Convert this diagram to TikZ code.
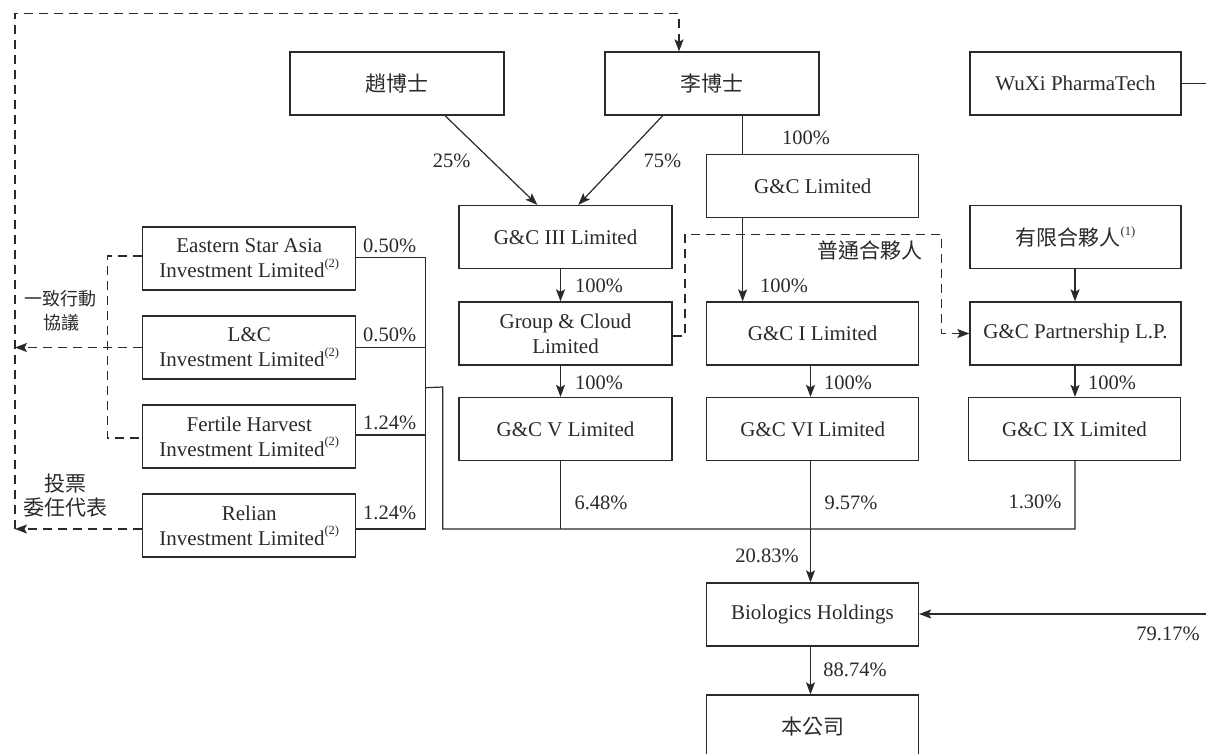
\documentclass[tikz,border=0pt]{standalone}
\usepackage{fontspec}
\setmainfont{Liberation Serif}
\newfontfamily\cjk{Noto Sans CJK TC}
\usetikzlibrary{arrows.meta}
\definecolor{ink}{HTML}{2A2A2A}
\newcommand{\supn}[1]{\raisebox{0.5em}{\fontsize{12.5}{12.5}\selectfont(#1)}}
\begin{document}
\begin{tikzpicture}[x=1pt,y=-1pt,
  box/.style={draw=ink, line width=1.3pt, minimum width=213pt, minimum height=63pt, inner sep=0pt, align=center, font=\fontsize{21}{25}\selectfont, text=ink},
  cjkbox/.style={box, font=\cjk\fontsize{21}{25}\selectfont},
  lbl/.style={inner sep=0pt, font=\fontsize{20.5}{24}\selectfont, text=ink},
  cjklbl/.style={inner sep=0pt, font=\cjk\fontsize{21}{25}\selectfont, text=ink},
  cjksmall/.style={inner sep=0pt, font=\cjk\fontsize{18}{21}\selectfont, text=ink},
  conn/.style={draw=ink, line width=1.2pt},
  arr/.style={conn, -{Stealth[length=12pt,width=9pt,inset=2.5pt]}},
  dsh/.style={conn, dash pattern=on 9pt off 6pt},
  darr/.style={dsh, -{Stealth[length=12pt,width=9pt,inset=2.5pt]}}]
\useasboundingbox (0,0) rectangle (1206,753);
\clip (0,0) rectangle (1206,753);
\fill[white] (0,0) rectangle (1206,753);

% columns
\coordinate (colA) at (560.5,0);
\coordinate (colB) at (742.6,0);
\coordinate (colC) at (810.5,0);
\coordinate (colD) at (1075,0);

% boxes
\node[cjkbox, minimum width=214pt] (zhao) at (397,83.5) {趙博士};
\node[cjkbox, minimum width=214pt] (li) at (712,83.5) {李博士};
\node[box, minimum width=211pt] (wuxi) at (1075.5,83.5) {WuXi PharmaTech};
\node[box, minimum width=212pt] (gcl) at (812.7,186) {G\&C Limited};
\node[cjkbox, minimum width=211pt] (lp) at (1075.5,237) {有限合夥人{\rmfamily\supn{1}}};
\node[box] (g3) at (565.5,237) {G\&C III Limited};
\node[box] (gc) at (565.5,333.5) {Group \& Cloud\\Limited};
\node[box, minimum width=212pt] (g1) at (812.7,333.5) {G\&C I Limited};
\node[box, minimum width=211pt] (gcp) at (1075.5,333.5) {G\&C Partnership L.P.};
\node[box] (g5) at (565.5,429) {G\&C V Limited};
\node[box, minimum width=212pt] (g6) at (812.7,429) {G\&C VI Limited};
\node[box, minimum width=212pt] (g9) at (1074.5,429) {G\&C IX Limited};
\node[box, minimum width=212pt] (bio) at (812.5,614.5) {Biologics Holdings};
\node[cjkbox, minimum width=212pt] (comp) at (812.5,726.5) {本公司};

\node[box] (esa) at (249.3,258.5) {Eastern Star Asia\\Investment Limited\supn{2}};
\node[box] (lc) at (249.3,347.5) {L\&C\\Investment Limited\supn{2}};
\node[box] (fh) at (249.3,436.5) {Fertile Harvest\\Investment Limited\supn{2}};
\node[box] (rel) at (249.3,525.5) {Relian\\Investment Limited\supn{2}};

% dashed voting / concert lines on the left
\coordinate (tl) at (15,13.3);
\coordinate (vlA) at (15,347.5);
\coordinate (vlB) at (15,529);
\draw[darr] (lc.west) -- (vlA);
\draw[darr] ([yshift=-3.5pt]rel.west) -- (vlB);
\draw[darr] (vlB) -- (tl) -| ([xshift=-33pt]li.north);
\draw[dsh] ([yshift=2.5pt]esa.west) -- ++(-35,0) |- ([yshift=-1.5pt]fh.west);

% solid bus from the left companies
\coordinate (busB) at (425.5,529);
\coordinate (bump) at (425.5,387.7);
\coordinate (bumpR) at (442.7,387);
\coordinate (busR) at (1075,529);
\draw[conn] ([yshift=0.8pt]esa.east) -| (busB) -- ([yshift=-3.5pt]rel.east);
\draw[conn] (lc.east) -- (lc.east -| busB);
\draw[conn] ([yshift=1.5pt]fh.east) -- ([yshift=1.5pt]fh.east -| busB);
\draw[conn] (bump) -- (bumpR) -- (bumpR |- busR) -- (busR) -- (g9.south -| busR);
\draw[conn] (g5.south -| colA) -- (colA |- busR);
\draw[arr] (g6.south -| colC) -- (bio.north -| colC);

% ownership arrows
\draw[arr] ([xshift=48pt]zhao.south) -- ([xshift=-28.2pt]g3.north);
\draw[arr] ([xshift=-49.3pt]li.south) -- ([xshift=12.8pt]g3.north);
\draw[conn] (li.south -| colB) -- (gcl.north -| colB);
\draw[arr] (gcl.south -| colB) -- (g1.north -| colB);
\draw[arr] (g3.south -| colA) -- (gc.north -| colA);
\draw[arr] (gc.south -| colA) -- (g5.north -| colA);
\draw[arr] (g1.south -| colC) -- (g6.north -| colC);
\draw[arr] (lp.south -| colD) -- (gcp.north -| colD);
\draw[arr] (gcp.south -| colD) -- (g9.north -| colD);
\draw[arr] (bio.south -| colC) -- (comp.north -| colC);
\coordinate (wxR) at (1206,83.5);
\draw[conn] (wuxi.east) -- (wxR);
\coordinate (bioR) at (1206,614);
\draw[arr] (bioR) -- (bio.east |- bioR);

% general partner dashed
\coordinate (gpA) at (685,234.3);
\coordinate (gpB) at (941.5,234.3);
\draw[darr] ([yshift=-2.5pt]gc.east) -| (gpA) -- (gpB) |- (gcp.west);

% labels
\node[lbl] (p25) at (451.7,161) {25\%};
\node[lbl] (p75) at (662.5,161) {75\%};
\node[lbl] (p100a) at (806,138) {100\%};
\node[lbl] (p100b) at (599,286) {100\%};
\node[lbl] (p100c) at (784,286) {100\%};
\node[lbl] (p100d) at (599,383) {100\%};
\node[lbl] (p100e) at (848,383) {100\%};
\node[lbl] (p100f) at (1112,383) {100\%};
\node[lbl] (pe1) at (389.7,245.7) {0.50\%};
\node[lbl] (pe2) at (389.7,335) {0.50\%};
\node[lbl] (pe3) at (389.7,422.7) {1.24\%};
\node[lbl] (pe4) at (389.7,513) {1.24\%};
\node[lbl] (p648) at (601,503) {6.48\%};
\node[lbl] (p957) at (851,503) {9.57\%};
\node[lbl] (p130) at (1035,502) {1.30\%};
\node[lbl] (p2083) at (767,556) {20.83\%};
\node[lbl] (p8874) at (855,670) {88.74\%};
\node[lbl] (p7917) at (1168,634) {79.17\%};
\node[cjklbl] (gp) at (870,251) {普通合夥人};
\node[cjksmall] (cc1) at (60,298.5) {一致行動};
\node[cjksmall] (cc2) at (61,323) {協議};
\node[cjklbl] (vp1) at (65,484) {投票};
\node[cjklbl] (vp2) at (65,508) {委任代表};
\end{tikzpicture}
\end{document}
